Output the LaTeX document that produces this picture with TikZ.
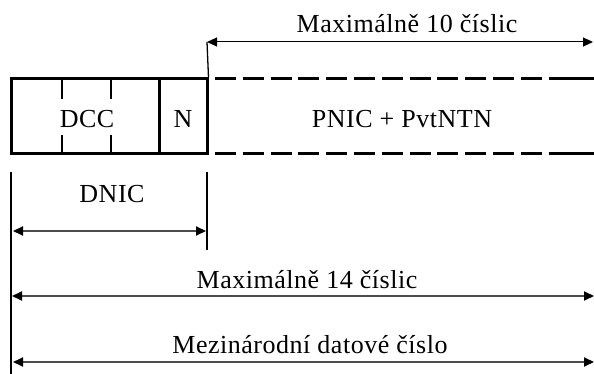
\documentclass[tikz,border=0pt]{standalone}
\usepackage{fontspec}
\setmainfont{Liberation Serif}[LetterSpace=2]
\usetikzlibrary{arrows.meta}
\begin{document}
\begin{tikzpicture}[x=1pt,y=-1pt,
  txt/.style={anchor=base,inner sep=0pt,font=\fontsize{26}{30}\selectfont},
  field/.style={draw,line width=3pt,inner sep=0pt},
  dimline/.style={line width=1pt,{Triangle[length=10pt,width=9pt]}-{Triangle[length=10pt,width=9pt]}},
  dimlow/.style={line width=1.8pt,black!70,{Triangle[length=10pt,width=9pt,black]}-{Triangle[length=10pt,width=9pt,black]}},
  guide/.style={line width=1.3pt},
  tick/.style={line width=1.3pt},
  dash3/.style={line width=3pt,dash pattern=on 21pt off 6.8pt},
  solid3/.style={line width=3pt}]
\useasboundingbox (0,0) rectangle (594,374);
% boxes
\node[field,minimum width=148pt,minimum height=75pt] (dcc) at (85,116.5) {};
\node[field,minimum width=48pt,minimum height=75pt] (n) at (183,116.5) {};
\node[txt] (dcct) at (87,128) {DCC};
\node[txt] (nt) at (183,128) {N};
\node[txt] (pnic) at (402,128) {PNIC + PvtNTN};
% ticks in DCC
\coordinate (t1a) at (62,79); \coordinate (t1b) at (62,99);
\coordinate (t1c) at (62,135); \coordinate (t1d) at (62,154);
\coordinate (t2a) at (111,79); \coordinate (t2b) at (111,99);
\coordinate (t2c) at (111,135); \coordinate (t2d) at (111,154);
\draw[tick] (t1a) -- (t1b) (t1c) -- (t1d) (t2a) -- (t2b) (t2c) -- (t2d);
% dashed continuation
\coordinate (ds1) at (215,79); \coordinate (de1) at (549,79); \coordinate (dr1) at (594,79);
\coordinate (ds2) at (215,154); \coordinate (de2) at (549,154); \coordinate (dr2) at (594,154);
\draw[dash3] (ds1) -- (de1);
\draw[solid3] (de1) -- (dr1);
\draw[dash3] (ds2) -- (de2);
\draw[solid3] (de2) -- (dr2);
% top dimension
\coordinate (ta) at (207,42); \coordinate (tb) at (593,42);
\draw[guide] (n.north east) -- (ta);
\draw[dimline] (ta) -- (tb);
\node[txt] (max10) at (407,33) {Maximálně 10 číslic};
% lower guides
\coordinate (g1a) at (11,172); \coordinate (g1b) at (11,374);
\coordinate (g2a) at (207,172); \coordinate (g2b) at (207,250);
\draw[guide] (g1a) -- (g1b);
\draw[guide] (g2a) -- (g2b);
% DNIC
\node[txt] (dnic) at (112,203) {DNIC};
\coordinate (da) at (13,231); \coordinate (db) at (206,231);
\draw[dimlow] (da) -- (db);
% max 14
\node[txt] (max14) at (307,288) {Maximálně 14 číslic};
\coordinate (ma) at (12,296); \coordinate (mb) at (594,296);
\draw[dimlow] (ma) -- (mb);
% international
\node[txt] (mez) at (310,353) {Mezinárodní datové číslo};
\coordinate (ia) at (13,362); \coordinate (ib) at (594,362);
\draw[dimlow] (ia) -- (ib);
\end{tikzpicture}
\end{document}
